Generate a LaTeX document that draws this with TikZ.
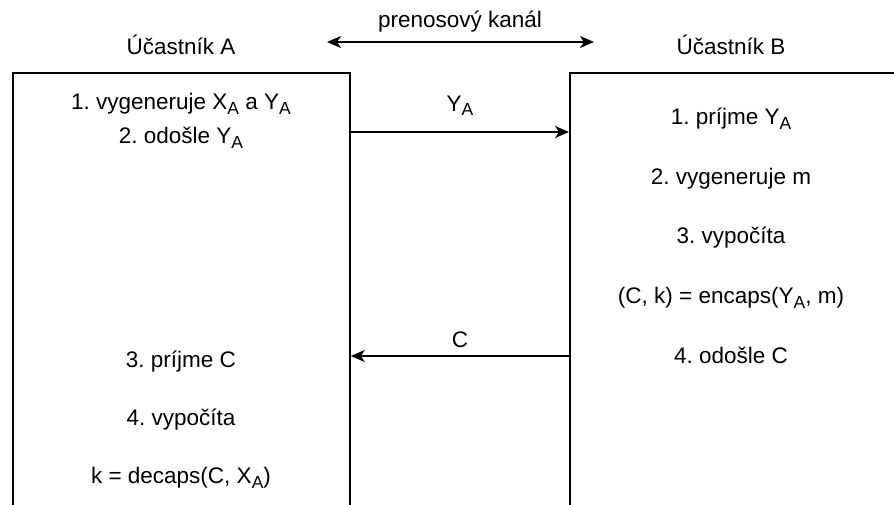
\documentclass[tikz,border=0pt]{standalone}
\usepackage{fontspec}
\setmainfont{Liberation Sans}
\usetikzlibrary{arrows.meta,calc}
\newcommand\subA{\raisebox{-4.5pt}{\fontsize{17.5}{17.5}\selectfont A}}
\begin{document}
\frenchspacing
\begin{tikzpicture}[x=1pt,y=-1pt,
  txt/.style={font=\fontsize{22.5}{26}\selectfont, inner sep=0pt, anchor=center},
  box/.style={draw, line width=1.8pt, minimum width=337pt, minimum height=520pt, inner sep=0pt, anchor=north west},
  arr/.style={line width=1.8pt, -{Stealth[length=14pt,width=12pt,inset=4pt]}},
  darr/.style={line width=1.8pt, {Stealth[length=14pt,width=12pt,inset=4pt]}-{Stealth[length=14pt,width=12pt,inset=4pt]}}]
\useasboundingbox (0,0) rectangle (894,504);
\clip (0,0) rectangle (894,504);
\node[box] (boxA) at (12,72) {};
\node[box, minimum width=400pt] (boxB) at (569,72) {};
\node[txt] (tA) at (181,45) {Účastník A};
\node[txt] (tB) at (731,45) {Účastník B};
\coordinate (chL) at (327,42);
\coordinate (chR) at (594,42);
\draw[darr] (chL) -- (chR);
\node[txt] (ch) at (460,22) {prenosový kanál};
% left texts
\node[txt] (a1) at (181,104) {1. vygeneruje X\subA{} a Y\subA};
\node[txt] (a2) at (181,138) {2. odošle Y\subA};
\node[txt] (a3) at (181,362) {3. príjme C};
\node[txt] (a4) at (181,420) {4. vypočíta};
\node[txt] (a5) at (181,478) {k = decaps(C, X\subA)};
% right texts
\node[txt] (b1) at (731,119) {1. príjme Y\subA};
\node[txt] (b2) at (731,179) {2. vygeneruje m};
\node[txt] (b3) at (731,238) {3. vypočíta};
\node[txt] (b4) at (731,298) {(C, k) = encaps(Y\subA, m)};
\node[txt] (b5) at (731,355) {4. odošle C};
% arrows
\coordinate (y1a) at (boxA.north east |- 0,132);
\coordinate (y1b) at (boxB.north west |- 0,132);
\draw[arr] (y1a) -- (y1b);
\node[txt] (lY) at (460,106) {Y\subA};
\coordinate (c1b) at (boxB.north west |- 0,356);
\coordinate (c1a) at (boxA.north east |- 0,356);
\draw[arr] (c1b) -- (c1a);
\node[txt] (lC) at (460,340) {C};
\end{tikzpicture}
\end{document}
